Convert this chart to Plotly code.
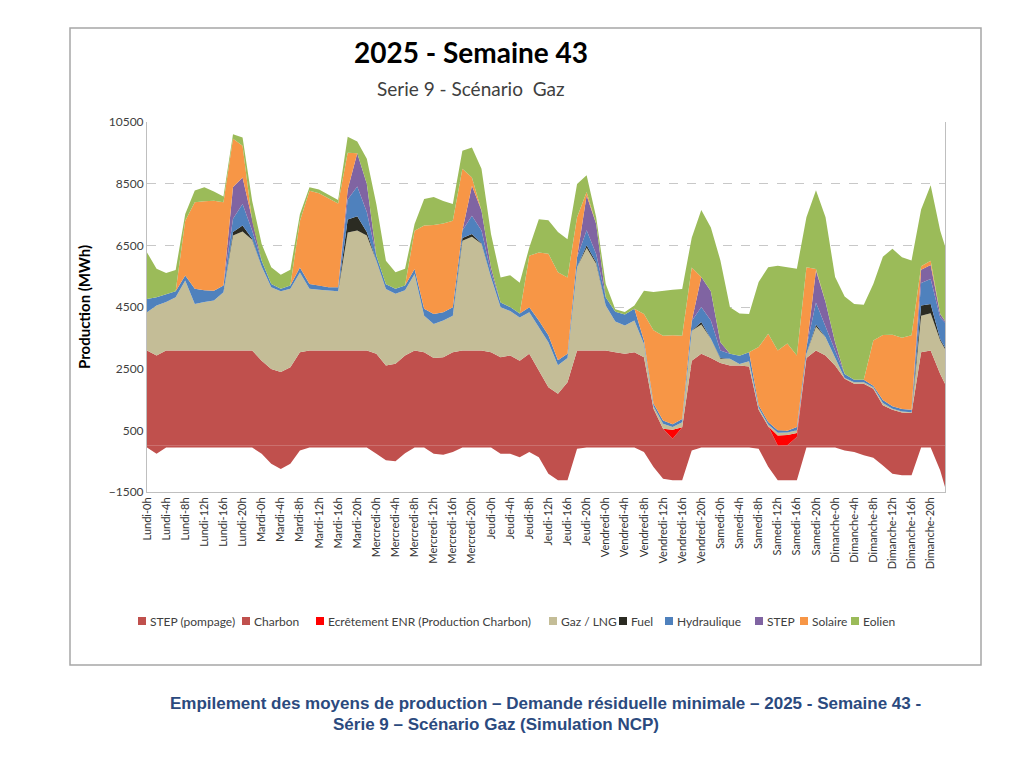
import plotly.graph_objects as go

# ---- data (MWh), sampled every 2 hours over the week, last point = hour 167 ----
hours = list(range(0, 167, 2)) + [167]

days = ["Lundi", "Mardi", "Mercredi", "Jeudi", "Vendredi", "Samedi", "Dimanche"]
hour_marks = [0, 4, 8, 12, 16, 20]
tick_hours = [d * 24 + h for d in range(7) for h in hour_marks]
tick_labels = [f"{day}-{h}h" for day in days for h in hour_marks]

step_pompage = [-60, -260, -60, -60, -60, -60, -60, -60, -60, -60, -60, -60,
                -260, -580, -750, -580, -150, -60, -60, -60, -60, -60, -60, -60,
                -260, -470, -500, -240, -60, -60, -260, -290, -200, -60, -60, -60,
                -60, -260, -260, -370, -200, -370, -910, -1120, -1120, -100, -60, -60,
                -60, -60, -60, -60, -200, -690, -1070, -1120, -1120, -150, -60, -60,
                -60, -60, -60, -60, -100, -680, -1120, -1120, -1120, -60, -60, -60,
                -60, -150, -200, -310, -390, -640, -910, -960, -960, -60, -60, -800,
                -1340]
charbon = [3090, 2930, 3090, 3090, 3090, 3090, 3090, 3090, 3090, 3090, 3090, 3090,
           2760, 2490, 2390, 2550, 3030, 3090, 3090, 3090, 3090, 3090, 3090, 3090,
           2980, 2600, 2660, 2930, 3090, 3030, 2850, 2870, 3030, 3090, 3090, 3090,
           3030, 2870, 2930, 2760, 2980, 2440, 1900, 1690, 2060, 3090, 3090, 3090,
           3090, 3030, 2980, 3030, 2870, 1200, 550, 230, 600, 2760, 2980, 2850,
           2680, 2600, 2600, 2570, 1170, 630, 10, 20, 280, 2850, 3090, 2930,
           2600, 2170, 2010, 2010, 1850, 1310, 1170, 1080, 1060, 3030, 3090, 2330,
           2010]
ecretement = [0, 0, 0, 0, 0, 0, 0, 0, 0, 0, 0, 0,
              0, 0, 0, 0, 0, 0, 0, 0, 0, 0, 0, 0,
              0, 0, 0, 0, 0, 0, 0, 0, 0, 0, 0, 0,
              0, 0, 0, 0, 0, 0, 0, 0, 0, 0, 0, 0,
              0, 0, 0, 0, 0, 0, 0, 290, 0, 0, 0, 0,
              0, 0, 0, 0, 0, 0, 320, 330, 130, 0, 0, 0,
              0, 0, 0, 0, 0, 0, 0, 0, 0, 0, 0, 0,
              0]
gaz = [1240, 1620, 1570, 1730, 2270, 1510, 1570, 1620, 1890, 3730, 3860, 3590,
       3050, 2650, 2620, 2540, 2590, 2000, 1970, 1940, 1920, 3830, 3890, 3730,
       3020, 2480, 2270, 2110, 2480, 1190, 1100, 1190, 1190, 3560, 3690, 3460,
       2430, 1620, 1440, 1400, 1350, 1400, 1460, 920, 790, 2700, 3330, 2810,
       1460, 1000, 920, 1030, 430, 80, 160, 90, 160, 970, 950, 620,
       140, 220, 50, 170, 60, 60, 90, 80, 90, 130, 780, 590,
       270, 30, 50, 50, 50, 80, 30, 30, 30, 1190, 1210, 1080,
       1130]
fuel = [0, 0, 0, 0, 0, 0, 0, 0, 0, 110, 190, 30,
        0, 0, 0, 0, 0, 0, 0, 0, 0, 420, 460, 110,
        0, 0, 0, 0, 0, 0, 0, 0, 0, 90, 90, 20,
        0, 0, 0, 0, 0, 0, 0, 0, 0, 0, 80, 50,
        0, 0, 0, 0, 0, 0, 0, 0, 0, 0, 80, 0,
        30, 0, 0, 0, 0, 0, 0, 0, 0, 0, 60, 0,
        0, 0, 0, 0, 0, 0, 0, 0, 0, 330, 300, 50,
        50]
hydraulique = [430, 270, 250, 190, 160, 490, 380, 320, 220, 430, 700, 270,
               190, 110, 80, 110, 160, 160, 140, 110, 130, 650, 970, 650,
               160, 160, 160, 160, 160, 220, 320, 270, 270, 240, 590, 410,
               160, 160, 130, 130, 160, 220, 220, 160, 130, 320, 490, 270,
               270, 320, 360, 380, 110, 90, 110, 90, 110, 320, 490, 590,
               240, 160, 270, 290, 80, 80, 80, 60, 110, 220, 720, 380,
               220, 130, 80, 80, 50, 90, 80, 80, 80, 730, 810, 700,
               810]
step = [0, 0, 0, 0, 0, 0, 0, 0, 0, 1030, 860, 320,
        0, 0, 0, 0, 0, 0, 0, 0, 0, 320, 1080, 920,
        0, 0, 0, 0, 0, 0, 0, 0, 0, 0, 970, 650,
        160, 0, 0, 0, 0, 0, 0, 0, 0, 0, 1130, 970,
        0, 0, 0, 0, 0, 0, 0, 0, 0, 0, 970, 950,
        270, 0, 0, 0, 0, 0, 0, 0, 0, 0, 1030, 760,
        270, 0, 0, 0, 0, 0, 0, 0, 0, 430, 450, 110,
        50]
solaire = [0, 0, 0, 0, 1780, 2810, 2890, 2920, 2700, 1570, 1030, 0,
           0, 0, 0, 0, 1510, 3020, 2990, 2890, 2720, 1190, 0, 0,
           0, 0, 0, 0, 1240, 2700, 2890, 2880, 2810, 2000, 270, 0,
           0, 0, 0, 0, 1670, 2210, 2650, 2860, 2480, 1300, 110, 0,
           0, 0, 0, 0, 860, 2380, 2750, 2880, 2700, 1730, 0, 0,
           0, 0, 0, 0, 1890, 2860, 2590, 2830, 2320, 2590, 50, 0,
           0, 0, 0, 0, 1460, 2110, 2320, 2310, 2410, 110, 140, 0,
           0]
eolien = [1510, 920, 690, 690, 220, 380, 450, 300, 180, 140, 270, 650,
          540, 540, 460, 510, 220, 110, 120, 110, 110, 520, 380, 810,
          1670, 760, 540, 540, 220, 860, 910, 730, 540, 590, 970, 1350,
          1080, 810, 1030, 1000, 270, 1080, 1080, 1300, 1240, 1080, 540, 220,
          430, 80, 80, 110, 760, 1240, 1460, 1480, 1510, 970, 2180, 2070,
          2650, 1510, 1370, 1240, 2110, 2160, 2750, 2480, 2810, 1620, 2560, 2750,
          2110, 2510, 2460, 2430, 1840, 2540, 2790, 2610, 2430, 1840, 2450, 2700,
          2430]

series = [
    ("STEP (pompage)", step_pompage, "#C0504D", "neg"),
    ("Charbon", charbon, "#C0504D", "pos"),
    ("Ecrêtement ENR (Production Charbon)", ecretement, "#FF0000", "pos"),
    ("Gaz / LNG", gaz, "#C4BD97", "pos"),
    ("Fuel", fuel, "#2B2B22", "pos"),
    ("Hydraulique", hydraulique, "#4F81BD", "pos"),
    ("STEP", step, "#8064A2", "pos"),
    ("Solaire", solaire, "#F79646", "pos"),
    ("Eolien", eolien, "#9BBB59", "pos"),
]

fig = go.Figure()
for name, vals, color, grp in series:
    fig.add_trace(go.Scatter(
        x=hours, y=vals, name=name, mode="lines",
        stackgroup=grp, line=dict(width=0, color=color),
        fillcolor=color, hoverinfo="skip", showlegend=False,
    ))

# page has an 8px body margin: figure occupies page pixels 8..1016 x 8..760
FIG_W, FIG_H = 1008, 752
L, R, T, B = 147, 945, 122, 492          # plot area in page pixels
W, H = R - L, B - T


def px(x):
    return (x - L) / W


def py(y):
    return (B - y) / H


annotations = [
    dict(text="<b>2025 - Semaine 43</b>", x=px(471), y=py(52),
         xanchor="center", yanchor="middle",
         font=dict(size=28, color="#000000", family="Lato, sans-serif")),
    dict(text="Serie 9 - Scénario  Gaz", x=px(471), y=py(88),
         xanchor="center", yanchor="middle",
         font=dict(size=19, color="#404040", family="Lato, sans-serif")),
    dict(text="<b>Production (MWh)</b>", x=px(84), y=py(307),
         xanchor="center", yanchor="middle", textangle=-90,
         font=dict(size=15, color="#000000", family="Lato, sans-serif")),
    dict(text="<b>Empilement des moyens de production – Demande résiduelle minimale – 2025 - Semaine 43 -</b>",
         x=px(168), y=py(703), xanchor="left", yanchor="middle",
         font=dict(size=17, color="#2B4A7E", family="Liberation Sans, Arial, sans-serif")),
    dict(text="<b>Série 9 – Scénario Gaz (Simulation NCP)</b>",
         x=px(331), y=py(724), xanchor="left", yanchor="middle",
         font=dict(size=17, color="#2B4A7E", family="Liberation Sans, Arial, sans-serif")),
]

shapes = [
    dict(type="rect", xref="paper", yref="paper",
         x0=px(70), x1=px(981), y0=py(665), y1=py(28),
         line=dict(color="#A6A6A6", width=1.5), fillcolor="rgba(0,0,0,0)", layer="below"),
]

# manual one-row legend
legend_swatch_x = [142, 246, 320, 553, 623, 669, 759, 804, 855]
LEG_Y = 621
for (name, _, color, _), sx in zip(series, legend_swatch_x):
    shapes.append(dict(type="rect", xref="paper", yref="paper",
                       x0=px(sx - 4), x1=px(sx + 4), y0=py(LEG_Y + 4), y1=py(LEG_Y - 4),
                       line=dict(width=0), fillcolor=color))
    annotations.append(dict(text=name, x=px(sx + 6), y=py(LEG_Y), xanchor="left", yanchor="middle",
                            font=dict(size=12, color="#404040", family="Lato, sans-serif")))

for a in annotations:
    a.update(xref="paper", yref="paper", showarrow=False)

fig.update_layout(
    width=FIG_W, height=FIG_H,
    margin=dict(l=L - 8, r=(8 + FIG_W) - R, t=T - 8, b=(8 + FIG_H) - B, pad=0),
    paper_bgcolor="white", plot_bgcolor="white",
    font=dict(family="Lato, Open Sans, sans-serif", color="#404040"),
    showlegend=False,
    xaxis=dict(
        range=[0, 167], tickmode="array", tickvals=tick_hours, ticktext=tick_labels,
        tickangle=-90, tickfont=dict(size=11, color="#333333"),
        showgrid=False, zeroline=False, showline=True, linecolor="#BFBFBF",
        ticks="", fixedrange=True,
    ),
    yaxis=dict(
        range=[-1500, 10500], tick0=-1500, dtick=2000, tickformat="d",
        tickfont=dict(size=12, color="#404040"),
        showgrid=True, gridcolor="#C8C8C8", griddash="dash", gridwidth=1,
        zeroline=False, showline=True, linecolor="#BFBFBF", mirror=True,
        ticks="", fixedrange=True,
    ),
    annotations=annotations,
    shapes=shapes,
)

fig.write_html("out.html")
